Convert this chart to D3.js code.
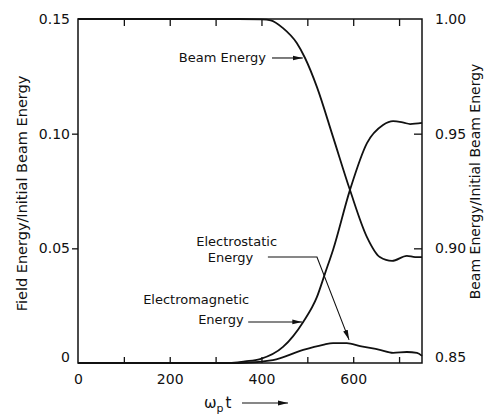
<!DOCTYPE html>
<html>
<head>
<meta charset="utf-8">
<script src="https://cdn.jsdelivr.net/npm/d3@7"></script>
<style>
  body { margin: 0; background: #fff; }
  svg text { font-family: "DejaVu Sans", sans-serif; fill: #111; }
</style>
</head>
<body>
<div id="chart"></div>
<script>
// omega_p t values and energies
const beamT = [0, 350, 400, 420, 447, 477, 495, 521, 556, 593, 630, 658, 685, 717, 735, 750];
const beamE = [1.0, 1.0, 0.9998, 0.9994, 0.996, 0.9895, 0.983, 0.9703, 0.9486, 0.9254, 0.9049, 0.8962, 0.8945, 0.8967, 0.8962, 0.8962];

const emT = [0, 330, 364, 397, 447, 491, 521, 539, 556, 593, 630, 665, 687, 710, 724, 750];
const emE = [0, 0, 0.0007, 0.0017, 0.007, 0.0179, 0.0288, 0.0393, 0.0493, 0.0755, 0.0959, 0.1038, 0.1055, 0.1048, 0.1042, 0.1047];

const esT = [0, 350, 425, 491, 534, 556, 586, 615, 658, 687, 717, 739, 750];
const esE = [0, 0, 0.0013, 0.0057, 0.0079, 0.0087, 0.0087, 0.0074, 0.0057, 0.0044, 0.0048, 0.0044, 0.0031];

const xTickLabels = [0, 200, 400, 600];
const xMinorTicks = [100, 200, 300, 400, 500, 600, 700];
const leftTicks = [0, 0.05, 0.10, 0.15];
const rightTicks = [0.85, 0.90, 0.95, 1.00];

const width = 489, height = 418;
const margin = {top: 19, right: 67, bottom: 55, left: 78};

const svg = d3.select('#chart').append('svg')
  .attr('width', width)
  .attr('height', height);

const x = d3.scaleLinear().domain([0, 750]).range([margin.left, width - margin.right]);
const yL = d3.scaleLinear().domain([0, 0.15]).range([height - margin.bottom, margin.top]);
const yR = d3.scaleLinear().domain([0.85, 1.0]).range([height - margin.bottom, margin.top]);

const ink = '#111';

// arrowhead
svg.append('defs').append('marker')
  .attr('id', 'head')
  .attr('viewBox', '0 0 10 6')
  .attr('refX', 10).attr('refY', 3)
  .attr('markerWidth', 10).attr('markerHeight', 6)
  .attr('markerUnits', 'userSpaceOnUse')
  .attr('orient', 'auto')
  .append('path')
  .attr('d', 'M0,0.6 L10,3 L0,5.4 Z')
  .attr('fill', ink);

// frame
svg.append('rect')
  .attr('x', x(0)).attr('y', yL(0.15))
  .attr('width', x(750) - x(0)).attr('height', yL(0) - yL(0.15))
  .attr('fill', 'none').attr('stroke', ink).attr('stroke-width', 1.5);

function styleAxis(g) {
  g.select('.domain').remove();
  g.selectAll('line').attr('stroke', ink).attr('stroke-width', 1.3);
  g.selectAll('text').attr('font-size', 14).attr('fill', ink)
    .style('font-family', '"DejaVu Sans", sans-serif');
}

// bottom: minor inward ticks and labels
svg.append('g')
  .attr('transform', `translate(0,${yL(0)})`)
  .call(d3.axisBottom(x).tickValues(xMinorTicks).tickSize(-6).tickFormat(''))
  .call(styleAxis);
svg.append('g')
  .attr('transform', `translate(0,${yL(0)})`)
  .call(d3.axisBottom(x).tickValues(xTickLabels).tickSize(0).tickPadding(11).tickFormat(d3.format('d')))
  .call(styleAxis);
// top: inward ticks
svg.append('g')
  .attr('transform', `translate(0,${yL(0.15)})`)
  .call(d3.axisTop(x).tickValues(xMinorTicks).tickSize(-7).tickFormat(''))
  .call(styleAxis);

// left axis
svg.append('g')
  .attr('transform', `translate(${x(0)},0)`)
  .call(d3.axisLeft(yL).tickValues(leftTicks).tickSize(6).tickPadding(2)
    .tickFormat(d => d === 0 ? '0' : d3.format('.2f')(d)))
  .call(styleAxis)
  .call(g => g.selectAll('.tick')
    .filter(d => d === 0 || d === 0.15)
    .select('line').remove())
  .call(g => g.selectAll('.tick')
    .filter(d => d === 0)
    .select('text').attr('dy', '-0.1em'));

// right axis
svg.append('g')
  .attr('transform', `translate(${x(750)},0)`)
  .call(d3.axisRight(yR).tickValues(rightTicks).tickSize(-8).tickPadding(13)
    .tickFormat(d3.format('.2f')))
  .call(styleAxis)
  .call(g => g.selectAll('.tick')
    .filter(d => d === 0.85 || d === 1.0)
    .select('line').remove())
  .call(g => g.selectAll('.tick')
    .filter(d => d === 0.85)
    .select('text').attr('dy', '-0.1em'));

// curves
const curve = d3.curveMonotoneX;
const beamLine = d3.line().x(d => x(d[0])).y(d => yR(d[1])).curve(curve);
const leftLine = d3.line().x(d => x(d[0])).y(d => yL(d[1])).curve(curve);

svg.append('path')
  .datum(d3.zip(beamT, beamE))
  .attr('d', beamLine)
  .attr('fill', 'none').attr('stroke', ink).attr('stroke-width', 1.8);
svg.append('path')
  .datum(d3.zip(emT, emE))
  .attr('d', leftLine)
  .attr('fill', 'none').attr('stroke', ink).attr('stroke-width', 1.8);
svg.append('path')
  .datum(d3.zip(esT, esE))
  .attr('d', leftLine)
  .attr('fill', 'none').attr('stroke', ink).attr('stroke-width', 1.8);

// annotations
const note = svg.append('g').attr('font-size', 13);

note.append('text')
  .attr('x', x(410)).attr('y', yR(0.983))
  .attr('text-anchor', 'end').attr('dominant-baseline', 'central')
  .text('Beam Energy');
note.append('line')
  .attr('x1', x(423)).attr('x2', x(490))
  .attr('y1', yR(0.983)).attr('y2', yR(0.983))
  .attr('stroke', ink).attr('stroke-width', 1.1)
  .attr('marker-end', 'url(#head)');

note.append('text')
  .attr('x', x(434)).attr('y', yL(0.0528))
  .attr('text-anchor', 'end').attr('dominant-baseline', 'central')
  .text('Electrostatic');
note.append('text')
  .attr('x', x(283)).attr('y', yL(0.0458))
  .attr('dominant-baseline', 'central')
  .text('Energy');
note.append('path')
  .attr('d', d3.line()([[x(414), yL(0.0462)], [x(521), yL(0.0462)], [x(591), yL(0.0101)]]))
  .attr('fill', 'none')
  .attr('stroke', ink).attr('stroke-width', 1.1)
  .attr('marker-end', 'url(#head)');

note.append('text')
  .attr('x', x(142)).attr('y', yL(0.0275))
  .attr('dominant-baseline', 'central')
  .text('Electromagnetic');
note.append('text')
  .attr('x', x(262)).attr('y', yL(0.0188))
  .attr('dominant-baseline', 'central')
  .text('Energy');
note.append('line')
  .attr('x1', x(371)).attr('x2', x(489))
  .attr('y1', yL(0.0179)).attr('y2', yL(0.0179))
  .attr('stroke', ink).attr('stroke-width', 1.1)
  .attr('marker-end', 'url(#head)');

// axis titles
svg.append('text')
  .attr('transform', `translate(22,${(72 + 315) / 2}) rotate(-90)`)
  .attr('text-anchor', 'middle').attr('dominant-baseline', 'central')
  .attr('font-size', 14.5)
  .text('Field Energy/Initial Beam Energy');

svg.append('text')
  .attr('transform', `translate(475,${(30 + 333) / 2}) rotate(-90)`)
  .attr('text-anchor', 'middle').attr('dominant-baseline', 'central')
  .attr('font-size', 14)
  .text('Beam Energy/Initial Beam Energy');

const xt = svg.append('text')
  .attr('x', 204).attr('y', 408)
  .attr('font-size', 15);
xt.append('tspan').text('ω');
xt.append('tspan').attr('font-size', 11).attr('dy', 4).text('p');
xt.append('tspan').attr('dy', -4).attr('dx', 2).text('t');
svg.append('line')
  .attr('x1', 242).attr('x2', 288)
  .attr('y1', 403).attr('y2', 403)
  .attr('stroke', ink).attr('stroke-width', 1.1)
  .attr('marker-end', 'url(#head)');
</script>
</body>
</html>
